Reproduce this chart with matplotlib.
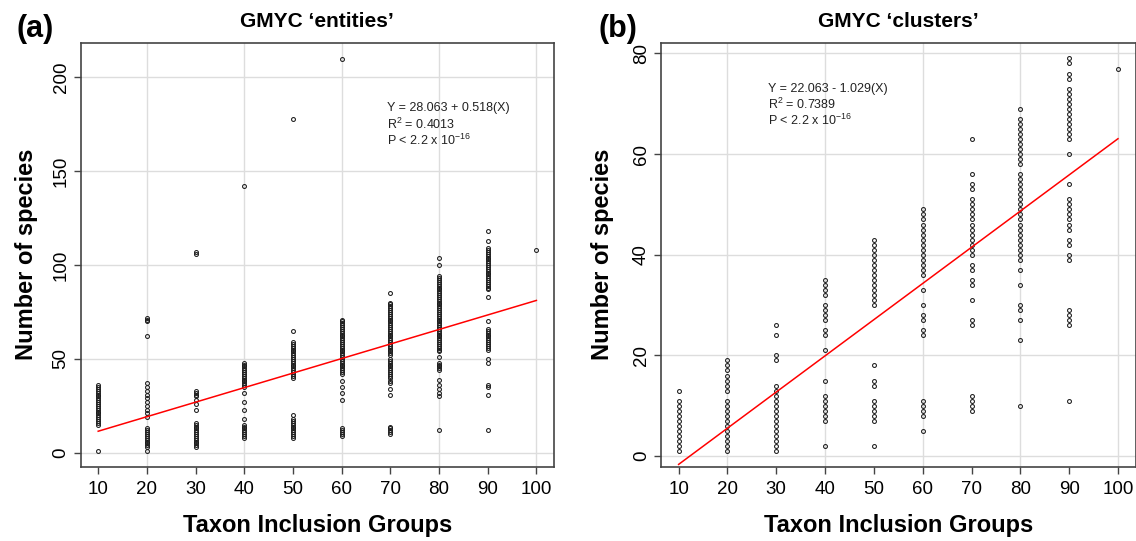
import numpy as np
import matplotlib
matplotlib.use("Agg")
import matplotlib.pyplot as plt

plt.rcParams['font.family'] = ['Liberation Sans', 'DejaVu Sans']
plt.rcParams['mathtext.fontset'] = 'custom'
plt.rcParams['mathtext.rm'] = 'Liberation Sans'
plt.rcParams['mathtext.it'] = 'Liberation Sans:italic'
plt.rcParams['mathtext.bf'] = 'Liberation Sans:bold'

# taxon inclusion groups (x)
groups = [10, 20, 30, 40, 50, 60, 70, 80, 90, 100]

# panel (a): number of species, GMYC entities
ent_10 = [1, 15, 16, 17, 18, 19, 20, 21, 22, 23, 24, 25, 26, 27, 28, 29, 30, 31, 32, 33, 34, 35, 36]
ent_20 = [1, 3, 4, 5, 6, 7, 8, 9, 10, 11, 12, 13, 19, 21, 23, 25, 27, 29, 31, 33, 35, 37, 62, 70, 71, 72]
ent_30 = [3, 4, 5, 6, 7, 8, 9, 10, 11, 12, 13, 14, 15, 16, 23, 26, 28, 30, 31, 32, 33, 106, 107]
ent_40 = [8, 9, 10, 11, 12, 13, 14, 15, 18, 23, 27, 32, 35, 36, 37, 38, 39, 40, 41, 42, 43, 44, 45,
          46, 47, 48, 142]
ent_50 = [8, 9, 10, 11, 12, 13, 14, 15, 16, 17, 18, 20, 40, 41, 42, 43, 44, 45, 46, 47, 48, 49, 50,
          51, 52, 53, 54, 55, 56, 57, 58, 59, 65, 178]
ent_60 = [9, 10, 11, 12, 13, 28, 32, 35, 38, 42, 43, 44, 45, 46, 47, 48, 49, 50, 51, 52, 53, 54, 55,
          56, 57, 58, 59, 60, 61, 62, 63, 64, 65, 66, 67, 68, 69, 70, 71, 210]
ent_70 = [10, 11, 12, 13, 14, 31, 34, 37, 38, 40, 41, 42, 43, 44, 45, 46, 47, 48, 49, 50, 52, 53, 54,
          55, 56, 57, 58, 59, 60, 61, 62, 63, 64, 65, 66, 67, 68, 69, 70, 71, 72, 73, 74, 75, 76, 77,
          78, 79, 80, 85]
ent_80 = [12, 30, 32, 34, 36, 39, 44, 45, 46, 47, 48, 51, 54, 55, 56, 57, 58, 59, 60, 61, 62, 63, 64,
          65, 66, 67, 68, 69, 70, 71, 72, 73, 74, 75, 76, 77, 78, 79, 80, 81, 82, 83, 84, 85, 86, 87,
          88, 89, 90, 91, 92, 93, 94, 100, 104]
ent_90 = [12, 31, 35, 36, 48, 50, 55, 56, 57, 58, 59, 60, 61, 62, 63, 64, 65, 66, 70, 83, 87, 88, 89,
          90, 91, 92, 93, 94, 95, 96, 97, 98, 99, 100, 101, 102, 103, 104, 105, 106, 107, 108, 109,
          113, 118]
ent_100 = [108]

# panel (b): number of species, GMYC clusters
clu_10 = [1, 2, 3, 4, 5, 6, 7, 8, 9, 10, 11, 13]
clu_20 = [1, 2, 3, 4, 5, 6, 7, 8, 9, 10, 11, 13, 14, 15, 16, 17, 18, 19]
clu_30 = [1, 2, 3, 4, 5, 6, 7, 8, 9, 10, 11, 12, 13, 14, 19, 20, 24, 26]
clu_40 = [2, 7, 8, 9, 10, 11, 12, 15, 21, 24, 25, 27, 28, 29, 30, 32, 33, 34, 35]
clu_50 = [2, 7, 8, 9, 10, 11, 14, 15, 18, 30, 31, 32, 33, 34, 35, 36, 37, 38, 39, 40, 41, 42, 43]
clu_60 = [5, 8, 9, 10, 11, 24, 25, 27, 28, 30, 33, 36, 37, 38, 39, 40, 41, 42, 43, 44, 45, 46, 47,
          48, 49]
clu_70 = [9, 10, 11, 12, 26, 27, 31, 34, 35, 37, 38, 40, 41, 42, 43, 44, 45, 46, 47, 48, 49, 50, 51,
          53, 54, 56, 63]
clu_80 = [10, 23, 27, 29, 30, 34, 37, 39, 40, 41, 42, 43, 44, 45, 46, 47, 48, 49, 50, 51, 52, 53, 54,
          55, 56, 58, 59, 60, 61, 62, 63, 64, 65, 66, 67, 69]
clu_90 = [11, 26, 27, 28, 29, 39, 40, 42, 43, 45, 46, 47, 48, 49, 50, 51, 54, 60, 63, 64, 65, 66, 67,
          68, 69, 70, 71, 72, 73, 75, 76, 78, 79]
clu_100 = [77]

entities = [ent_10, ent_20, ent_30, ent_40, ent_50, ent_60, ent_70, ent_80, ent_90, ent_100]
clusters = [clu_10, clu_20, clu_30, clu_40, clu_50, clu_60, clu_70, clu_80, clu_90, clu_100]

# fitted lines as drawn (intercept, slope)
fit_a = (3.76, 0.774)
fit_b = (-8.85, 0.719)

eq_a = ["Y = 28.063 + 0.518(X)", r"R$^2$ = 0.4013", r"P < 2.2 x 10$^{-16}$"]
eq_b = ["Y = 22.063 - 1.029(X)", r"R$^2$ = 0.7389", r"P < 2.2 x 10$^{-16}$"]

fig = plt.figure(figsize=(11.36, 5.41), dpi=100)
ax_a = fig.add_axes([0.0710, 0.1373, 0.4166, 0.7837])
ax_b = fig.add_axes([0.5819, 0.1373, 0.4177, 0.7837])

spine_col = '#444444'
grid_col = '#dddddd'


def draw_panel(ax, data, fit, yticks, ylim, eq, eq_x, eq_y, title, label_x):
    for g in yticks:
        ax.axhline(g, color=grid_col, lw=1.0, zorder=0)
    for g in groups[1::2]:
        ax.axvline(g, color=grid_col, lw=1.0, zorder=0)
    for g, vals in zip(groups, data):
        ax.plot(np.full(len(vals), g), vals, 'o', ms=2.8, mfc='none', mec='#1a1a1a',
                mew=0.75, zorder=2)
    xs = np.array([groups[0], groups[-1]])
    ax.plot(xs, fit[0] + fit[1] * xs, color='red', lw=1.1, zorder=3)

    ax.set_xlim(6.4, 103.6)
    ax.set_ylim(*ylim)
    ax.set_xticks(groups)
    ax.set_yticks(yticks)
    ax.tick_params(axis='both', labelsize=13.5, length=5, width=1, color=spine_col)
    ax.tick_params(axis='x', pad=5)
    ax.tick_params(axis='y', pad=3)
    plt.setp(ax.get_yticklabels(), rotation=90, va='center')
    for s in ax.spines.values():
        s.set_color(spine_col)
        s.set_linewidth(1.2)

    for i, line in enumerate(eq):
        ax.text(eq_x, eq_y - i * 0.0375, line, transform=ax.transAxes, fontsize=9,
                va='center', ha='left', color='#222222')

    ax.set_title(title, fontsize=15, fontweight='bold', pad=11)
    ax.set_xlabel('Taxon Inclusion Groups', fontsize=17, fontweight='bold', labelpad=12)
    ax.set_ylabel('Number of species', fontsize=17, fontweight='bold')
    ax.yaxis.set_label_coords(label_x, 0.5)


draw_panel(ax_a, entities, fit_a, [0, 50, 100, 150, 200], (-7.4, 218.4), eq_a, 0.6465, 0.845,
           'GMYC \u2018entities\u2019', -0.09)
draw_panel(ax_b, clusters, fit_b, [0, 20, 40, 60, 80], (-2.12, 82.12), eq_b, 0.226, 0.891,
           'GMYC \u2018clusters\u2019', -0.1)

fig.text(17 / 1136, 1 - 37 / 541, '(a)', fontsize=22, fontweight='bold', va='baseline')
fig.text(598 / 1136, 1 - 37 / 541, '(b)', fontsize=22, fontweight='bold', va='baseline')

fig.savefig('out.png', dpi=100)
